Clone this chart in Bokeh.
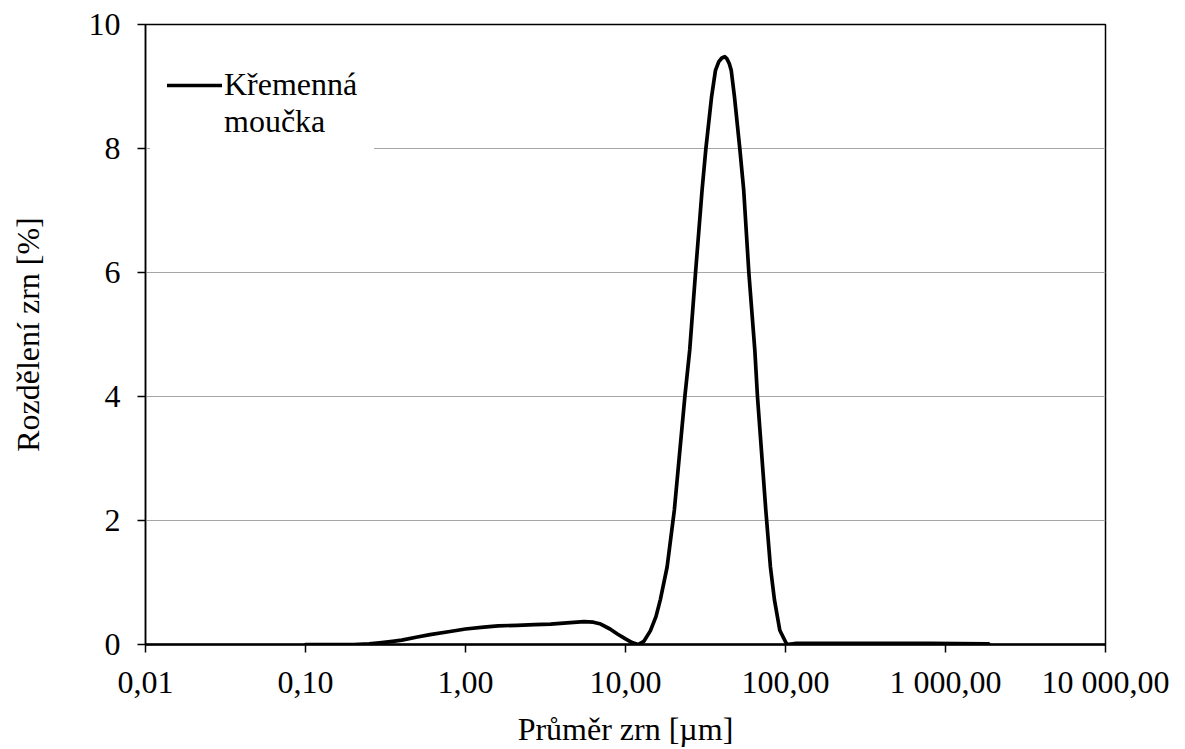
from bokeh.plotting import figure
from bokeh.models import (FixedTicker, Range1d, Legend, LegendItem, ColumnDataSource)
from bokeh.embed import file_html
from bokeh.resources import INLINE

# ---- data ----
sizes_um = [0.1, 0.15, 0.2, 0.25, 0.3, 0.35, 0.4, 0.5, 0.6, 0.8, 1.0, 1.3, 1.6, 2.1,
            2.7, 3.4, 4.3, 5.5, 6.3, 7.0, 8.0, 8.9, 10.0, 11.0, 12.0, 13.0, 14.3,
            15.5, 16.5, 18.2, 20.2, 23.5, 25.2, 27.4, 30.1, 31.8, 34.5, 36.5, 38.3,
            40.0, 41.7, 43.0, 44.5, 45.8, 48.0, 51.8, 54.8, 59.0, 64.3, 66.8, 75.3,
            80.5, 85.3, 92.1, 102.0, 117.0, 150.0, 200.0, 300.0, 500.0, 800.0,
            1200.0, 1860.0]
distribution_pct = [0.0, 0.0, 0.0, 0.01, 0.03, 0.05, 0.07, 0.12, 0.16, 0.21, 0.25, 0.28,
                    0.30, 0.31, 0.32, 0.33, 0.35, 0.37, 0.36, 0.33, 0.25, 0.17, 0.09,
                    0.03, 0.0, 0.05, 0.22, 0.45, 0.72, 1.25, 2.17, 4.0, 4.75, 6.0, 7.33,
                    8.0, 8.83, 9.26, 9.40, 9.46, 9.48, 9.45, 9.37, 9.26, 8.83, 8.0, 7.33,
                    6.0, 4.75, 4.0, 2.17, 1.25, 0.72, 0.23, 0.0, 0.02, 0.02, 0.02, 0.02,
                    0.02, 0.02, 0.015, 0.01]
series_name_line1 = "Křemenná"
series_name_line2 = "moučka"

x_tick_values = [0.01, 0.1, 1, 10, 100, 1000, 10000]
x_tick_labels = ["0,01", "0,10", "1,00", "10,00", "100,00", "1 000,00", "10 000,00"]
y_tick_values = [0, 2, 4, 6, 8, 10]

x_title = "Průměr zrn [µm]"
y_title = "Rozdělení zrn [%]"

FONT = "Liberation Serif"
FS = "32px"

p = figure(width=1185, height=749, x_axis_type="log",
           x_range=Range1d(0.01, 10000), y_range=Range1d(0, 10),
           output_backend="svg", toolbar_location=None,
           min_border_left=145, min_border_right=80,
           min_border_top=24, min_border_bottom=105)
p.background_fill_color = "white"
p.border_fill_color = "white"
p.outline_line_color = "black"
p.outline_line_width = 1.5

src = ColumnDataSource(dict(x=sizes_um, y=distribution_pct))
r = p.line("x", "y", source=src, line_color="black", line_width=3.7,
           line_join="round", line_cap="round")
r_blank = p.line(x=[], y=[], line_alpha=0)

# axes
p.xaxis.ticker = FixedTicker(ticks=x_tick_values, minor_ticks=[])
p.xaxis.major_label_overrides = {v: l for v, l in zip(x_tick_values, x_tick_labels)}
p.yaxis.ticker = FixedTicker(ticks=y_tick_values, minor_ticks=[])

for ax in (p.xaxis[0], p.yaxis[0]):
    ax.major_label_text_font = FONT
    ax.major_label_text_font_size = FS
    ax.major_label_text_color = "black"
    ax.axis_label_text_font = FONT
    ax.axis_label_text_font_size = FS
    ax.axis_label_text_font_style = "normal"
    ax.axis_label_text_color = "black"
    ax.axis_line_color = "black"
    ax.major_tick_line_color = "black"
    ax.major_tick_line_width = 1.5
    ax.major_tick_in = 0
    ax.major_tick_out = 8
    ax.minor_tick_line_color = None

p.xaxis.axis_line_width = 2.5
p.yaxis.axis_line_width = 1.5
p.xaxis.axis_label = x_title
p.yaxis.axis_label = y_title
p.xaxis.major_label_standoff = 11
p.yaxis.major_label_standoff = 17
p.xaxis.axis_label_standoff = 8
p.yaxis.axis_label_standoff = 40

p.xgrid.grid_line_color = None
p.ygrid.ticker = FixedTicker(ticks=y_tick_values)
p.ygrid.grid_line_color = "#a6a6a6"
p.ygrid.grid_line_width = 1

legend = Legend(items=[LegendItem(label=series_name_line1, renderers=[r]),
                       LegendItem(label=series_name_line2, renderers=[r_blank])],
                location=(5, 487), margin=0, padding=16, spacing=-3,
                glyph_width=55, glyph_height=20, label_standoff=2,
                label_text_font=FONT, label_text_font_size=FS,
                label_text_color="black",
                background_fill_color="white", background_fill_alpha=1.0,
                border_line_color="white", border_line_width=1)
p.add_layout(legend)

open("out.html", "w").write(file_html(p, INLINE))
